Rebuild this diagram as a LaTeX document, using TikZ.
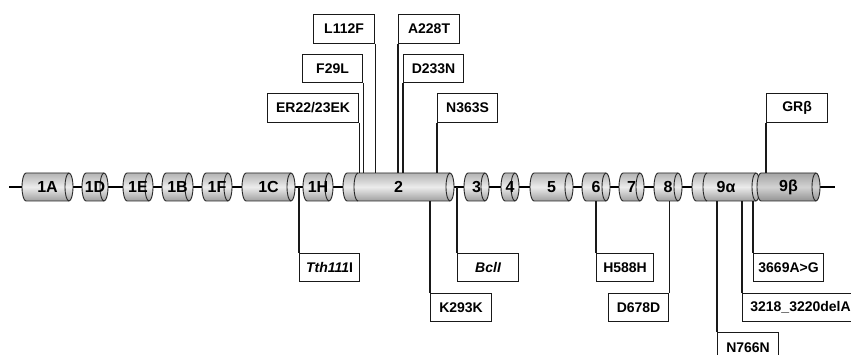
\documentclass[tikz,border=0pt]{standalone}
\usepackage{fontspec}
\setmainfont{Liberation Sans}
\newcommand\exon[5]{%
  \path[#5] ({#2+4},-173) arc[start angle=90,end angle=270,x radius=4,y radius=14]
     -- ({#3-4},-201) arc[start angle=-90,end angle=90,x radius=4,y radius=14] -- cycle;
  \draw[exonline] ({#3-4},-173) arc[start angle=90,end angle=270,x radius=4,y radius=14];
  \node[exontext, minimum width={#3-#2}] (#1) at ({(#2+#3)/2},-187) {#4};
}
\newcommand\innerarc[1]{%
  \draw[exonline] ({#1+4},-173) arc[start angle=90,end angle=270,x radius=4,y radius=14];
}
\begin{document}
\begin{tikzpicture}[x=1pt,y=1pt,
  exonshape/.style={draw=gray!30!black, line width=0.9pt, top color=gray!60, bottom color=gray!75, middle color=gray!15},
  exondark/.style={exonshape, top color=gray!72, bottom color=gray!85, middle color=gray!35},
  exonline/.style={draw=gray!30!black, line width=0.9pt},
  exontext/.style={inner sep=0pt, minimum height=28pt, font=\bfseries\fontsize{16}{18}\selectfont, text=black},
  lbl/.style={draw=gray!20!black, line width=1.1pt, fill=white, inner sep=0pt, font=\bfseries\fontsize{14}{16}\selectfont, text=black, anchor=north west},
  leader/.style={draw=gray!20!black, line width=1.1pt},
  backbone/.style={draw=black, line width=2.2pt}]
\useasboundingbox (0,0) rectangle (851,-355);
\clip (0,0) rectangle (851,-355);
\fill[white] (0,0) rectangle (851,-355);
% backbone
\coordinate (bbL) at (9,-187);
\coordinate (bbR) at (835,-187);
\draw[backbone] (bbL) -- (bbR);
% exons
\exon{e1A}{22}{73}{1A}{exonshape}
\exon{e1D}{82}{108}{1D}{exonshape}
\exon{e1E}{123}{153}{1E}{exonshape}
\exon{e1B}{162}{193}{1B}{exonshape}
\exon{e1F}{202}{232}{1F}{exonshape}
\exon{e1C}{242}{295}{1C}{exonshape}
\exon{e1H}{303}{333}{1H}{exonshape}
\exon{e2}{343}{454}{2}{exonshape}
\innerarc{354}
\exon{e3}{464}{489}{3}{exonshape}
\exon{e4}{501}{519}{4}{exonshape}
\exon{e5}{530}{573}{5}{exonshape}
\exon{e6}{582}{610}{6}{exonshape}
\exon{e7}{619}{644}{7}{exonshape}
\exon{e8}{654}{682}{8}{exonshape}
\exon{e9a}{692}{760}{9α}{exonshape}
\innerarc{703}
\exon{e9b}{757}{820}{9β}{exondark}
% labels above
\node[lbl, minimum width=61, minimum height=29] (L112F) at (313,-14) {L112F};
\node[lbl, minimum width=60, minimum height=28] (F29L) at (302,-54) {F29L};
\node[lbl, minimum width=91, minimum height=29] (ER22) at (267,-93) {ER22/23EK};
\node[lbl, minimum width=61, minimum height=29] (A228T) at (398,-14) {A228T};
\node[lbl, minimum width=60, minimum height=28] (D233N) at (403,-54) {D233N};
\node[lbl, minimum width=60, minimum height=29] (N363S) at (437,-93) {N363S};
\node[lbl, minimum width=61, minimum height=29] (GRb) at (766,-93) {GRβ};
\draw[leader] (L112F.south east) -- (L112F.south east |- e2.north);
\draw[leader] (F29L.south east) -- (F29L.south east |- e2.north);
\draw[leader] (ER22.south east) -- (ER22.south east |- e2.north);
\draw[leader] (A228T.south west) -- (A228T.south west |- e2.north);
\draw[leader] (D233N.south west) -- (D233N.south west |- e2.north);
\draw[leader] (N363S.south west) -- (N363S.south west |- e2.north);
\draw[leader] (GRb.south west) -- (GRb.south west |- e9b.north);
% labels below
\node[lbl, minimum width=60, minimum height=28] (Tth) at (299,-253) {{\itshape Tth111}I};
\node[lbl, minimum width=61, minimum height=28] (K293K) at (430,-293) {K293K};
\node[lbl, minimum width=61, minimum height=28] (Bcl) at (457,-253) {\itshape BclI};
\node[lbl, minimum width=57, minimum height=28] (H588H) at (596,-253) {H588H};
\node[lbl, minimum width=60, minimum height=28] (D678D) at (608,-293) {D678D};
\node[lbl, minimum width=61, minimum height=30] (N766N) at (717,-332) {N766N};
\node[lbl, minimum width=116, minimum height=28] (del) at (742,-293) {3218\_3220delA};
\node[lbl, minimum width=70, minimum height=28] (A3669) at (753,-253) {3669A>G};
\draw[leader] (Tth.north west) -- (Tth.north west |- bbL);
\draw[leader] (K293K.north west) -- (K293K.north west |- e2.south);
\draw[leader] (Bcl.north west) -- (Bcl.north west |- bbL);
\draw[leader] (H588H.north west) -- (H588H.north west |- e6.south);
\draw[leader] (D678D.north east) -- (D678D.north east |- e8.south);
\draw[leader] (N766N.north west) -- (N766N.north west |- e9a.south);
\draw[leader] (del.north west) -- (del.north west |- e9a.south);
\draw[leader] (A3669.north west) -- (A3669.north west |- e9a.south);
\end{tikzpicture}
\end{document}
